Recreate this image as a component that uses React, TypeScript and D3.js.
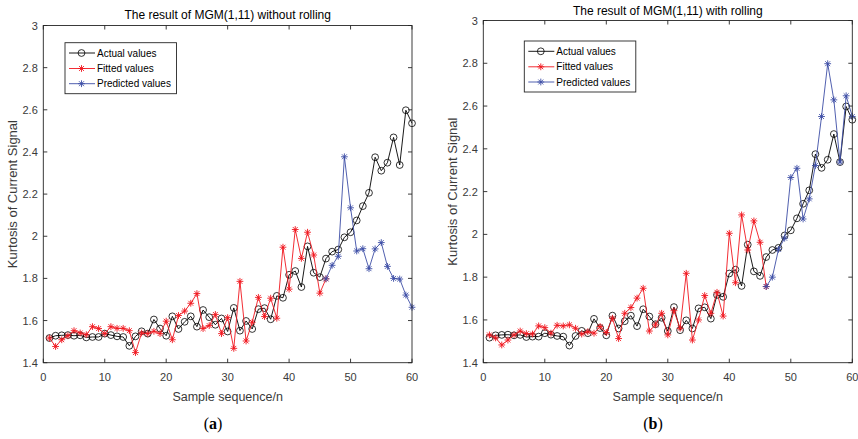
import React from "react";
import * as d3 from "d3";

// ---------- data ----------
const sampleIdx = d3.range(1, 61);
const actualValues = [
  1.517, 1.528, 1.53, 1.531, 1.528, 1.53, 1.52, 1.522, 1.522, 1.538,
  1.531, 1.525, 1.522, 1.48, 1.525, 1.549, 1.538, 1.605, 1.562, 1.528,
  1.62, 1.56, 1.594, 1.62, 1.571, 1.65, 1.616, 1.58, 1.61, 1.548,
  1.66, 1.552, 1.598, 1.56, 1.654, 1.659, 1.606, 1.717, 1.708, 1.817,
  1.835, 1.759, 1.952, 1.827, 1.806, 1.894, 1.927, 1.937, 1.995, 2.019,
  2.075, 2.143, 2.206, 2.375, 2.311, 2.349, 2.469, 2.338, 2.598, 2.536,
];
// fitted: samples 1..46
const fittedA = [
  1.517, 1.477, 1.509, 1.528, 1.552, 1.541, 1.533, 1.571, 1.562, 1.538,
  1.571, 1.563, 1.563, 1.552, 1.448, 1.541, 1.538, 1.549, 1.538, 1.597,
  1.509, 1.624, 1.645, 1.682, 1.728, 1.562, 1.576, 1.629, 1.538, 1.614,
  1.468, 1.786, 1.503, 1.592, 1.71, 1.619, 1.706, 1.611, 1.948, 1.749,
  2.032, 1.895, 2.019, 1.911, 1.73, 1.798,
];
// predicted: samples 46..60
const predictedA = [
  1.798, 1.862, 1.905, 2.377, 2.135, 1.93, 1.941, 1.846, 1.94, 1.97,
  1.857, 1.8, 1.797, 1.721, 1.663,
];
const fittedB = [
  1.53, 1.516, 1.483, 1.506, 1.53, 1.548, 1.536, 1.534, 1.572, 1.564,
  1.538, 1.575, 1.572, 1.577, 1.561, 1.534, 1.545, 1.538, 1.569, 1.541,
  1.608, 1.513, 1.631, 1.658, 1.702, 1.748, 1.548, 1.577, 1.631, 1.53,
  1.643, 1.561, 1.818, 1.506, 1.6, 1.714, 1.631, 1.729, 1.618, 2.005,
  1.774, 2.091, 1.927, 2.063, 1.963, 1.756,
];
const predictedB = [
  1.756, 1.8, 1.93, 1.982, 2.266, 2.309, 2.072, 2.166, 2.322, 2.551,
  2.798, 2.629, 2.338, 2.648, 2.551,
];
const fittedStart = 1;
const predictedStart = 46;
const xTicks = [0, 10, 20, 30, 40, 50, 60];
const yTicks = [1.4, 1.6, 1.8, 2, 2.2, 2.4, 2.6, 2.8, 3];
const legendLabels = ["Actual values", "Fitted values", "Predicted values"];

// ---------- style ----------
const FONT = "'Liberation Sans', Arial, Helvetica, sans-serif";
const AXC = "#262626";
const TXT = "#3a3a3a";
const RED = "#f0161e";
const BLUE = "#3d4ea6";

type Panel = {
  title: string;
  tag: string;
  fitted: number[];
  predicted: number[];
  left: number;
  right: number;
  top: number;
  bottom: number;
  titleY: number;
  legX: number;
  legY: number;
  tagX: number;
};

const panels: Panel[] = [
  {
    title: "The result of MGM(1,11) without rolling",
    tag: "a",
    fitted: fittedA,
    predicted: predictedA,
    left: 43.3, right: 412, top: 25.5, bottom: 362.7,
    titleY: 19,
    legX: 65, legY: 42.7,
    tagX: 213,
  },
  {
    title: "The result of MGM(1,11) with rolling",
    tag: "b",
    fitted: fittedB,
    predicted: predictedB,
    left: 483.3, right: 852.3, top: 20.5, bottom: 362.7,
    titleY: 15,
    legX: 524.3, legY: 41,
    tagX: 653,
  },
];

function starPath(cx: number, cy: number, r: number) {
  const d = r * 0.72;
  return `M${cx - r},${cy}L${cx + r},${cy}M${cx},${cy - r}L${cx},${cy + r}` +
    `M${cx - d},${cy - d}L${cx + d},${cy + d}M${cx - d},${cy + d}L${cx + d},${cy - d}`;
}

function ChartPanel({ p }: { p: Panel }) {
  const x = d3.scaleLinear().domain([0, 60]).range([p.left, p.right]);
  const y = d3.scaleLinear().domain([1.4, 3]).range([p.bottom, p.top]);
  const line = d3.line<[number, number]>().x((d) => x(d[0])).y((d) => y(d[1]));
  const act: [number, number][] = sampleIdx.map((s, i) => [s, actualValues[i]]);
  const fit: [number, number][] = p.fitted.map((v, i) => [fittedStart + i, v]);
  const pre: [number, number][] = p.predicted.map((v, i) => [predictedStart + i, v]);
  const tl = 4;
  const cx = (p.left + p.right) / 2;
  const cy = (p.top + p.bottom) / 2;
  const rows = [p.legY + 10.3, p.legY + 25.8, p.legY + 41];
  return (
    <g>
      <rect x={p.left} y={p.top} width={p.right - p.left} height={p.bottom - p.top} fill="#fff" />
      {/* series */}
      <path d={line(act) || ""} fill="none" stroke="#000" strokeWidth={0.9} />
      {act.map((d, i) => (
        <circle key={"a" + i} cx={x(d[0])} cy={y(d[1])} r={3.4} fill="none" stroke="#000" strokeWidth={0.8} />
      ))}
      <path d={line(fit) || ""} fill="none" stroke={RED} strokeWidth={0.9} />
      {fit.map((d, i) => (
        <path key={"f" + i} d={starPath(x(d[0]), y(d[1]), 3.4)} stroke={RED} strokeWidth={0.9} fill="none" />
      ))}
      <path d={line(pre) || ""} fill="none" stroke={BLUE} strokeWidth={0.9} />
      {pre.map((d, i) => (
        <path key={"p" + i} d={starPath(x(d[0]), y(d[1]), 3.4)} stroke={BLUE} strokeWidth={0.9} fill="none" />
      ))}
      {/* box */}
      <rect x={p.left} y={p.top} width={p.right - p.left} height={p.bottom - p.top} fill="none" stroke={AXC} strokeWidth={0.9} />
      {xTicks.map((t) => (
        <g key={"xt" + t}>
          <line x1={x(t)} x2={x(t)} y1={p.bottom} y2={p.bottom - tl} stroke={AXC} strokeWidth={0.9} />
          <line x1={x(t)} x2={x(t)} y1={p.top} y2={p.top + tl} stroke={AXC} strokeWidth={0.9} />
          <text x={x(t)} y={p.bottom + 18.5} textAnchor="middle" fontSize={11} fill={TXT} fontFamily={FONT}>{t}</text>
        </g>
      ))}
      {yTicks.map((t) => (
        <g key={"yt" + t}>
          <line x1={p.left} x2={p.left + tl} y1={y(t)} y2={y(t)} stroke={AXC} strokeWidth={0.9} />
          <line x1={p.right} x2={p.right - tl} y1={y(t)} y2={y(t)} stroke={AXC} strokeWidth={0.9} />
          <text x={p.left - 5.5} y={y(t) + 4} textAnchor="end" fontSize={11} fill={TXT} fontFamily={FONT}>{String(t)}</text>
        </g>
      ))}
      <text x={cx} y={p.titleY} textAnchor="middle" fontSize={12} fill="#000" fontFamily={FONT}>{p.title}</text>
      <text x={cx} y={p.bottom + 38.5} textAnchor="middle" fontSize={12.5} fill={TXT} fontFamily={FONT}>Sample sequence/n</text>
      <text transform={`translate(${p.left - 26},${cy}) rotate(-90)`} textAnchor="middle" fontSize={13} fill={TXT} fontFamily={FONT}>Kurtosis of Current Signal</text>
      {/* legend */}
      <rect x={p.legX} y={p.legY} width={111.5} height={51} fill="#fff" stroke={AXC} strokeWidth={0.9} />
      {legendLabels.map((lab, i) => {
        const col = i === 0 ? "#000" : i === 1 ? RED : BLUE;
        const mx = p.legX + 16.5;
        return (
          <g key={lab}>
            <line x1={p.legX + 4} x2={p.legX + 30} y1={rows[i]} y2={rows[i]} stroke={col} strokeWidth={0.9} />
            {i === 0 ? (
              <circle cx={mx} cy={rows[i]} r={3.4} fill="none" stroke="#000" strokeWidth={0.8} />
            ) : (
              <path d={starPath(mx, rows[i], 3.4)} stroke={col} strokeWidth={0.9} fill="none" />
            )}
            <text x={p.legX + 32} y={rows[i] + 3.6} fontSize={10} fill="#000" fontFamily={FONT}>{lab}</text>
          </g>
        );
      })}
      <text x={p.tagX} y={429} textAnchor="middle" fontSize={16} fill="#000" fontFamily="'Liberation Serif', 'DejaVu Serif', serif">
        (<tspan fontWeight="bold">{p.tag}</tspan>)
      </text>
    </g>
  );
}

export default function App() {
  return (
    <svg width={858} height={439} style={{ position: "absolute", left: 0, top: 0, background: "#fff" }}>
      <rect x={0} y={0} width={858} height={439} fill="#fff" />
      {panels.map((p) => (
        <ChartPanel key={p.tag} p={p} />
      ))}
    </svg>
  );
}
